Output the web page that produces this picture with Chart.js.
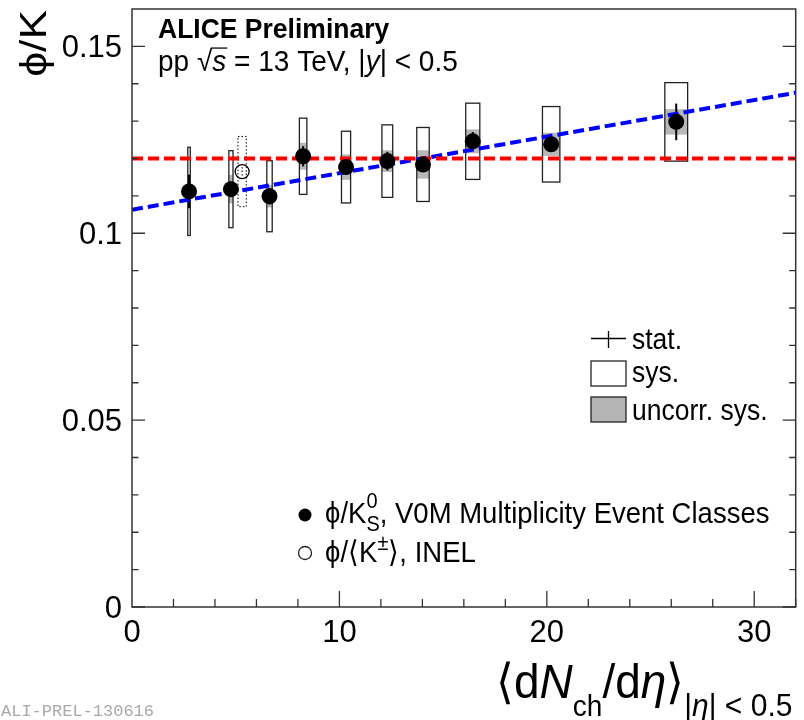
<!DOCTYPE html>
<html>
<head>
<meta charset="utf-8">
<script src="https://cdn.jsdelivr.net/npm/chart.js@4.4.1/dist/chart.umd.min.js"></script>
<style>
  html, body { margin: 0; padding: 0; background: #fff; }
  #wrap { width: 804px; height: 720px; }
</style>
</head>
<body>
<div id="wrap"><canvas id="myChart" width="804" height="720"></canvas></div>
<script>
// phi/K0s vs <dNch/deta>, V0M multiplicity classes
const dndeta     = [2.75, 4.77, 6.63, 8.25, 10.32, 12.31, 14.03, 16.43, 20.21, 26.24];
const dndetaSys  = [0.06, 0.10, 0.13, 0.18, 0.22, 0.26, 0.30, 0.34, 0.42, 0.55];
const phiK       = [0.1112, 0.1118, 0.1099, 0.1206, 0.1177, 0.1193, 0.1184, 0.1246, 0.1238, 0.1298];
const statErr    = [0.0045, 0.0020, 0.0022, 0.0027, 0.0015, 0.0025, 0.0015, 0.0025, 0.0020, 0.0049];
const sysErr     = [0.0118, 0.0103, 0.0095, 0.0102, 0.0096, 0.0097, 0.0099, 0.0102, 0.0101, 0.0105];
const uncorrErr  = [0.0030, 0.0038, 0.0030, 0.0036, 0.0034, 0.0029, 0.0038, 0.0032, 0.0031, 0.0034];

// phi/<K+-> in INEL events
const inelX      = [5.31];
const inelXSys   = [0.20];
const inelY      = [0.1165];
const inelStat   = [0.0012];
const inelSys    = [0.0094];

// constant and linear fits
const flatX = [0, 32];
const flatY = [0.12, 0.12];
const fitX  = [0, 32];
const fitY  = [0.1063, 0.1376];

const xTicks = [0, 10, 20, 30];
const yTicks = [0, 0.05, 0.1, 0.15];
const yTickLabels = ['0', '0.05', '0.1', '0.15'];

const FONT = '"Liberation Sans", Arial, Helvetica, sans-serif';

// draws a run of text pieces one after another: [text, size, style, dy, overline]
function richText(ctx, x, y, parts, stretch) {
  stretch = stretch || 1;
  ctx.save();
  ctx.translate(x, y);
  ctx.scale(1, stretch);
  ctx.textAlign = 'left';
  ctx.textBaseline = 'alphabetic';
  ctx.fillStyle = '#000';
  let cx = 0;
  let lastX = 0;
  for (const p of parts) {
    const [t, size, style, dy, over] = p;
    ctx.font = (style || 'normal') + ' ' + size + 'px ' + FONT;
    const w = ctx.measureText(t).width;
    const yy = (dy || 0) / stretch;
    if (p.sameX) { ctx.fillText(t, lastX, yy); cx = Math.max(cx, lastX + w); continue; }
    ctx.fillText(t, cx, yy);
    if (over) {
      ctx.lineWidth = 1.2;
      ctx.strokeStyle = '#000';
      ctx.beginPath();
      ctx.moveTo(cx - 1, yy - size * 0.78);
      ctx.lineTo(cx + w + 1, yy - size * 0.78);
      ctx.stroke();
    }
    lastX = cx;
    cx += w;
  }
  ctx.restore();
  return cx;
}

function piece(t, size, style, dy, over) { return [t, size, style, dy, over]; }
function atSameX(t, size, style, dy) { const p = [t, size, style, dy]; p.sameX = true; return p; }

const errorBoxes = {
  id: 'errorBoxes',
  beforeDatasetsDraw(chart) {
    const {ctx, scales: {x, y}} = chart;
    ctx.save();
    dndeta.forEach((v, i) => {
      const x0 = x.getPixelForValue(v - dndetaSys[i]);
      const x1 = x.getPixelForValue(v + dndetaSys[i]);
      // uncorrelated systematics
      const u0 = y.getPixelForValue(phiK[i] + uncorrErr[i]);
      const u1 = y.getPixelForValue(phiK[i] - uncorrErr[i]);
      ctx.fillStyle = '#b8b8b8';
      ctx.fillRect(x0, u0, x1 - x0, u1 - u0);
      // total systematics
      const s0 = y.getPixelForValue(phiK[i] + sysErr[i]);
      const s1 = y.getPixelForValue(phiK[i] - sysErr[i]);
      ctx.strokeStyle = '#222';
      ctx.lineWidth = 1.3;
      ctx.strokeRect(x0, s0, x1 - x0, s1 - s0);
      // statistical
      const xc = x.getPixelForValue(v);
      ctx.lineWidth = 2;
      ctx.strokeStyle = '#000';
      ctx.beginPath();
      ctx.moveTo(xc, y.getPixelForValue(phiK[i] + statErr[i]));
      ctx.lineTo(xc, y.getPixelForValue(phiK[i] - statErr[i]));
      ctx.stroke();
    });
    inelX.forEach((v, i) => {
      const x0 = x.getPixelForValue(v - inelXSys[i]);
      const x1 = x.getPixelForValue(v + inelXSys[i]);
      const s0 = y.getPixelForValue(inelY[i] + inelSys[i]);
      const s1 = y.getPixelForValue(inelY[i] - inelSys[i]);
      ctx.strokeStyle = '#000';
      ctx.lineWidth = 1;
      ctx.setLineDash([1.5, 2]);
      ctx.strokeRect(x0, s0, x1 - x0, s1 - s0);
      const xc = x.getPixelForValue(v);
      ctx.beginPath();
      ctx.moveTo(xc, y.getPixelForValue(inelY[i] + inelStat[i]));
      ctx.lineTo(xc, y.getPixelForValue(inelY[i] - inelStat[i]));
      ctx.stroke();
      ctx.setLineDash([]);
    });
    ctx.restore();
  },
  afterDraw(chart) {
    const {ctx, chartArea: a, scales: {x, y}} = chart;
    ctx.save();
    // frame
    ctx.strokeStyle = '#333';
    ctx.lineWidth = 1.5;
    ctx.strokeRect(a.left, a.top, a.right - a.left, a.bottom - a.top);
    // y ticks on both sides
    ctx.lineWidth = 1.3;
    for (let k = 0; k < 16; k++) {
      const py = y.getPixelForValue(k / 100);
      const len = k % 5 === 0 ? 13 : 6.5;
      ctx.beginPath();
      ctx.moveTo(a.left, py); ctx.lineTo(a.left + len, py);
      ctx.moveTo(a.right, py); ctx.lineTo(a.right - len, py);
      ctx.stroke();
    }
    // x ticks along the bottom
    for (let k = 1; k <= 16; k++) {
      const px = x.getPixelForValue(2 * k);
      const len = k % 5 === 0 ? 16 : 8;
      ctx.beginPath();
      ctx.moveTo(px, a.bottom); ctx.lineTo(px, a.bottom - len);
      ctx.stroke();
    }

    // axis titles
    ctx.save();
    ctx.translate(46, 10);
    ctx.rotate(-Math.PI / 2);
    ctx.scale(1.2, 1);
    ctx.font = '37px ' + FONT;
    ctx.textAlign = 'right';
    ctx.fillStyle = '#000';
    ctx.fillText('\u03D5/K', 0, 0);
    ctx.restore();

    richText(ctx, 496, 698, [
      piece('\u27E8d', 46), piece('N', 46, 'italic'), piece('ch', 28, 'normal', 18),
      piece('/d', 46), piece('\u03B7', 46, 'italic'), piece('\u27E9', 46),
      piece('|', 30, 'normal', 18), piece('\u03B7', 30, 'italic', 18), piece('| < 0.5', 30, 'normal', 18)
    ], 1.05);

    // header
    richText(ctx, 158, 38, [piece('ALICE Preliminary', 26.5, 'bold')], 1.05);
    richText(ctx, 158, 71, [
      piece('pp ', 28), piece('\u221A', 28), piece('s', 28, 'italic', 0, true),
      piece(' = 13 TeV, |', 28), piece('y', 28, 'italic'), piece('| < 0.5', 28)
    ], 1.05);

    // error legend
    ctx.strokeStyle = '#000';
    ctx.lineWidth = 1.3;
    ctx.beginPath();
    ctx.moveTo(591, 338.5); ctx.lineTo(626, 338.5);
    ctx.moveTo(608.5, 331); ctx.lineTo(608.5, 348);
    ctx.stroke();
    ctx.strokeStyle = '#222';
    ctx.strokeRect(591, 361, 35, 25);
    ctx.fillStyle = '#b4b4b4';
    ctx.fillRect(591, 397, 35, 25);
    ctx.strokeRect(591, 397, 35, 25);
    richText(ctx, 632, 349, [piece('stat.', 26.5)], 1.1);
    richText(ctx, 632, 382, [piece('sys.', 26.5)], 1.1);
    richText(ctx, 632, 420, [piece('uncorr. sys.', 26.5)], 1.1);

    // marker legend
    ctx.fillStyle = '#000';
    ctx.beginPath();
    ctx.arc(305, 515, 6.5, 0, Math.PI * 2);
    ctx.fill();
    ctx.lineWidth = 1.3;
    ctx.beginPath();
    ctx.arc(305, 553, 6.5, 0, Math.PI * 2);
    ctx.stroke();
    richText(ctx, 325, 523, [
      piece('\u03D5/K', 27.5), piece('0', 20, 'normal', -15), atSameX('S', 20, 'normal', 8),
      piece(', V0M Multiplicity Event Classes', 27.5)
    ], 1.1);
    richText(ctx, 325, 562, [
      piece('\u03D5/\u27E8K', 27.5), piece('\u00B1', 20, 'normal', -12), piece('\u27E9, INEL', 27.5)
    ], 1.1);

    // plot id
    ctx.font = '17px "Liberation Mono", "DejaVu Sans Mono", monospace';
    ctx.fillStyle = '#a8a8a8';
    ctx.textAlign = 'left';
    ctx.fillText('ALI-PREL-130616', 1, 716);
    ctx.restore();
  }
};

const ctx = document.getElementById('myChart').getContext('2d');

const data = {
  datasets: [
    {
      label: 'V0M',
      data: dndeta.map((v, i) => ({x: v, y: phiK[i]})),
      backgroundColor: '#000',
      borderWidth: 0,
      pointRadius: 8,
      showLine: false,
      order: 0
    },
    {
      label: 'INEL',
      data: inelX.map((v, i) => ({x: v, y: inelY[i]})),
      backgroundColor: 'rgba(0,0,0,0)',
      borderColor: '#000',
      borderWidth: 1.3,
      pointRadius: 7,
      showLine: false,
      order: 0
    },
    {
      label: 'const',
      data: flatX.map((v, i) => ({x: v, y: flatY[i]})),
      borderColor: '#ff0000',
      borderWidth: 4,
      borderDash: [11, 5],
      pointRadius: 0,
      showLine: true,
      order: 1
    },
    {
      label: 'linear',
      data: fitX.map((v, i) => ({x: v, y: fitY[i]})),
      borderColor: '#0000ff',
      borderWidth: 4,
      borderDash: [11, 5],
      pointRadius: 0,
      showLine: true,
      order: 1
    }
  ]
};

const options = {
  responsive: false,
  animation: false,
  devicePixelRatio: 1,
  layout: { padding: { left: 0, top: 9, right: 6, bottom: 0 } },
  plugins: { legend: { display: false }, tooltip: { enabled: false } },
  scales: {
    x: {
      type: 'linear',
      min: 0,
      max: 32,
      grid: { display: false, drawTicks: false },
      border: { display: false },
      afterBuildTicks: s => { s.ticks = xTicks.map(v => ({value: v})); },
      afterFit: s => { s.height = 113; s.paddingLeft = 0; s.paddingRight = 0; },
      ticks: {
        color: '#000',
        padding: 8,
        autoSkip: false,
        maxRotation: 0,
        font: { family: FONT, size: 31 },
        callback: v => String(v)
      }
    },
    y: {
      type: 'linear',
      min: 0,
      max: 0.16,
      grid: { display: false, drawTicks: false },
      border: { display: false },
      afterBuildTicks: s => { s.ticks = yTicks.map(v => ({value: v})); },
      afterFit: s => { s.width = 132; s.paddingTop = 0; s.paddingBottom = 0; },
      ticks: {
        color: '#000',
        padding: 10,
        labelOffset: 2,
        autoSkip: false,
        font: { family: FONT, size: 31 },
        callback: (v, i) => yTickLabels[i]
      }
    }
  }
};

const myChart = new Chart(ctx, {
  type: 'scatter',
  data: data,
  options: options,
  plugins: [errorBoxes]
});
</script>
</body>
</html>
